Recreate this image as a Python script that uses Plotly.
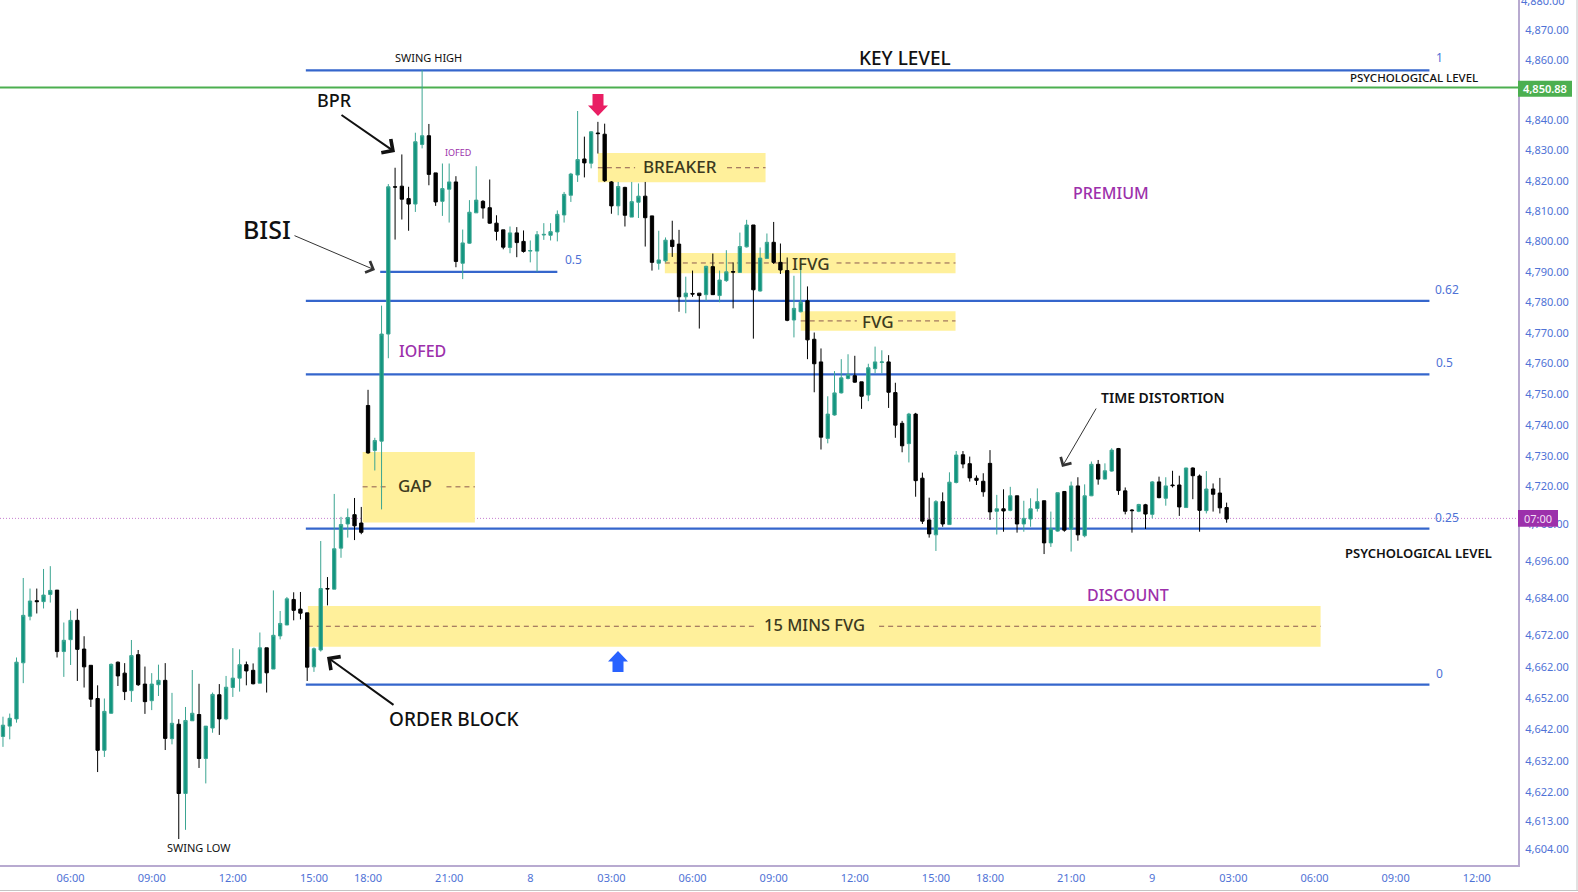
import math
import plotly.graph_objects as go

# 15 min bars, x is the bar number (chart has no time gaps)
opens = [4639.8, 4643.1, 4645.4, 4663.3, 4678.2, 4683.2, 4682.9, 4685.2, 4686.6, 4666.9, 4670.7, 4676.9, 4667.7, 4662.5, 4651.9, 4635.4, 4647.2, 4663.5, 4660.0, 4654.4,
         4665.9, 4656.5, 4651.2, 4656.3, 4657.7, 4639.1, 4643.7, 4621.7, 4644.8, 4646.8, 4632.8, 4642.5, 4653.1, 4645.4, 4655.4, 4658.4, 4662.7, 4660.9, 4656.8, 4668.1,
         4661.3, 4671.9, 4675.4, 4683.6, 4680.5, 4679.3, 4662.0, 4667.4, 4687.1, 4686.9, 4700.1, 4707.9, 4710.9, 4708.2, 4746.3, 4731.7, 4734.7, 4769.6, 4818.0, 4818.2,
         4814.1, 4812.3, 4832.0, 4834.9, 4822.6, 4813.2, 4817.2, 4819.6, 4792.8, 4799.4, 4809.4, 4813.2, 4811.1, 4806.0, 4803.8, 4798.0, 4802.8, 4800.0, 4796.8, 4796.8,
         4802.1, 4802.0, 4803.1, 4808.7, 4815.2, 4821.9, 4827.2, 4825.8, 4835.8, 4835.4, 4819.6, 4811.7, 4817.8, 4808.0, 4812.9, 4814.9, 4808.4, 4792.8, 4793.6, 4800.4,
         4799.1, 4781.8, 4782.9, 4783.0, 4782.5, 4791.7, 4782.2, 4787.1, 4790.1, 4789.8, 4798.2, 4805.4, 4783.7, 4794.4, 4799.7, 4793.1, 4790.4, 4774.2, 4776.9, 4780.5,
         4767.9, 4760.5, 4735.6, 4743.2, 4750.4, 4755.1, 4756.0, 4754.0, 4749.7, 4758.3, 4760.3, 4760.5, 4750.5, 4740.5, 4733.9, 4743.5, 4722.7, 4709.2, 4704.4, 4715.1,
         4707.7, 4721.3, 4730.3, 4727.4, 4722.7, 4721.7, 4727.5, 4712.0, 4712.8, 4712.3, 4717.0, 4707.9, 4709.5, 4712.9, 4715.4, 4701.8, 4705.6, 4718.4, 4706.2, 4720.2,
         4704.1, 4717.0, 4727.2, 4722.4, 4725.0, 4732.3, 4718.6, 4712.4, 4712.0, 4714.1, 4711.0, 4721.5, 4716.2, 4720.5, 4720.5, 4713.2, 4726.0, 4723.4, 4712.2, 4719.2,
         4717.9, 4713.2]
highs = [4646.1, 4647.1, 4665.0, 4690.5, 4687.1, 4687.1, 4693.4, 4694.3, 4686.6, 4676.2, 4680.0, 4680.6, 4671.8, 4662.5, 4656.1, 4651.9, 4663.1, 4663.7, 4663.2, 4670.6,
         4667.4, 4662.1, 4660.0, 4662.7, 4663.2, 4653.7, 4645.3, 4649.2, 4661.0, 4656.6, 4643.1, 4653.8, 4656.5, 4659.1, 4668.0, 4667.6, 4663.7, 4663.1, 4673.0, 4668.1,
         4686.5, 4679.9, 4684.4, 4685.9, 4686.0, 4679.3, 4668.2, 4702.4, 4690.8, 4717.6, 4710.2, 4712.9, 4716.3, 4713.4, 4751.4, 4735.8, 4778.9, 4818.9, 4824.3, 4828.7,
         4818.0, 4835.9, 4856.7, 4838.8, 4822.6, 4825.7, 4825.7, 4821.5, 4803.9, 4813.6, 4824.8, 4813.6, 4820.4, 4808.6, 4803.8, 4804.9, 4804.7, 4803.6, 4800.3, 4803.4,
         4806.0, 4806.0, 4810.2, 4816.3, 4822.6, 4843.1, 4834.6, 4836.4, 4839.5, 4838.9, 4819.9, 4819.6, 4818.0, 4819.6, 4819.1, 4819.6, 4808.4, 4803.5, 4801.3, 4806.8,
         4803.8, 4788.4, 4790.4, 4783.0, 4792.0, 4796.0, 4790.4, 4797.1, 4793.1, 4802.9, 4807.1, 4805.4, 4798.0, 4802.6, 4806.4, 4799.3, 4794.7, 4788.7, 4792.5, 4785.2,
         4770.1, 4764.9, 4749.3, 4757.5, 4761.4, 4763.0, 4762.5, 4754.0, 4759.9, 4765.5, 4764.3, 4762.7, 4753.7, 4741.3, 4743.9, 4743.9, 4724.5, 4716.4, 4715.6, 4718.1,
         4724.6, 4731.5, 4731.5, 4729.7, 4723.6, 4724.3, 4731.8, 4717.3, 4719.1, 4719.9, 4717.0, 4715.4, 4716.2, 4719.4, 4715.4, 4711.9, 4718.0, 4718.4, 4721.6, 4723.0,
         4720.7, 4728.1, 4728.6, 4727.5, 4732.4, 4732.5, 4719.7, 4712.7, 4714.4, 4714.4, 4721.8, 4723.2, 4723.0, 4725.1, 4723.5, 4726.1, 4726.2, 4723.9, 4725.0, 4721.0,
         4722.8, 4714.8]
lows = [4636.5, 4638.9, 4644.2, 4656.8, 4676.9, 4679.1, 4680.7, 4682.6, 4665.0, 4658.8, 4662.6, 4657.5, 4655.4, 4649.2, 4628.5, 4633.3, 4647.0, 4655.9, 4651.4, 4650.8,
        4655.9, 4647.0, 4648.2, 4652.7, 4635.5, 4637.3, 4607.3, 4610.2, 4644.8, 4629.8, 4624.9, 4641.0, 4640.3, 4645.0, 4652.4, 4654.1, 4656.1, 4656.4, 4656.8, 4653.8,
        4661.3, 4670.8, 4675.4, 4676.9, 4677.2, 4657.5, 4660.4, 4666.9, 4681.7, 4686.9, 4697.0, 4703.5, 4702.7, 4704.6, 4730.6, 4725.2, 4712.6, 4761.7, 4800.6, 4807.2,
        4803.5, 4809.7, 4830.7, 4818.5, 4811.7, 4808.4, 4806.2, 4791.5, 4787.6, 4799.2, 4809.4, 4807.5, 4805.8, 4800.3, 4797.4, 4796.1, 4794.8, 4796.3, 4793.1, 4790.0,
        4800.5, 4800.3, 4800.0, 4806.2, 4813.0, 4819.6, 4821.1, 4824.1, 4829.0, 4819.6, 4809.1, 4808.6, 4804.9, 4808.0, 4807.7, 4798.3, 4790.4, 4790.7, 4793.1, 4794.9,
        4776.9, 4776.4, 4781.8, 4771.4, 4780.5, 4782.4, 4780.0, 4786.7, 4778.0, 4789.6, 4798.0, 4768.1, 4783.5, 4794.2, 4792.6, 4789.3, 4773.8, 4768.5, 4776.7, 4761.4,
        4750.6, 4732.0, 4734.0, 4743.0, 4750.2, 4754.8, 4753.7, 4745.2, 4747.7, 4756.8, 4756.8, 4745.5, 4735.8, 4731.1, 4727.8, 4716.7, 4707.9, 4703.5, 4699.2, 4707.0,
        4707.7, 4721.0, 4725.9, 4721.6, 4720.5, 4716.7, 4709.2, 4704.5, 4705.4, 4712.0, 4705.1, 4705.4, 4707.0, 4711.9, 4698.2, 4700.5, 4705.4, 4705.4, 4699.0, 4702.5,
        4703.6, 4716.9, 4720.6, 4722.3, 4724.8, 4717.3, 4711.0, 4705.1, 4711.7, 4706.3, 4709.7, 4716.2, 4713.8, 4719.7, 4710.5, 4713.2, 4715.9, 4705.4, 4711.3, 4711.9,
        4711.3, 4708.3]
closes = [4643.4, 4645.6, 4663.5, 4678.5, 4683.1, 4682.9, 4685.0, 4686.5, 4666.9, 4670.5, 4676.9, 4667.6, 4662.0, 4651.7, 4635.4, 4647.8, 4662.8, 4659.1, 4654.1, 4665.6,
          4656.3, 4650.9, 4656.5, 4657.7, 4639.2, 4644.0, 4621.7, 4644.9, 4647.2, 4632.8, 4643.1, 4653.2, 4645.4, 4655.5, 4658.4, 4662.7, 4660.7, 4656.6, 4668.1, 4660.1,
          4672.1, 4675.9, 4683.8, 4680.1, 4679.2, 4661.9, 4667.8, 4687.1, 4687.0, 4699.9, 4707.7, 4710.0, 4707.3, 4705.2, 4730.9, 4734.9, 4769.6, 4818.0, 4817.9, 4813.9,
          4812.3, 4832.9, 4834.9, 4822.1, 4813.0, 4817.4, 4819.6, 4793.4, 4799.5, 4809.6, 4813.6, 4811.0, 4806.0, 4803.3, 4798.1, 4802.8, 4799.6, 4796.7, 4797.0, 4802.2,
          4802.3, 4803.2, 4808.9, 4815.5, 4822.2, 4827.0, 4825.9, 4836.2, 4835.6, 4820.0, 4811.7, 4818.1, 4808.6, 4813.1, 4814.9, 4807.8, 4793.1, 4793.9, 4800.4, 4798.3,
          4781.8, 4783.0, 4782.7, 4782.2, 4791.8, 4782.5, 4787.3, 4790.0, 4789.9, 4798.3, 4805.4, 4784.1, 4794.5, 4799.7, 4793.1, 4790.6, 4774.1, 4778.0, 4780.0, 4767.7,
          4759.9, 4736.0, 4743.5, 4750.4, 4755.3, 4756.4, 4753.9, 4749.3, 4758.6, 4760.5, 4760.5, 4750.6, 4739.9, 4733.2, 4743.5, 4721.9, 4708.8, 4704.7, 4715.1, 4707.9,
          4721.4, 4730.2, 4727.3, 4722.8, 4722.0, 4718.3, 4711.8, 4712.8, 4712.1, 4717.0, 4707.9, 4709.7, 4712.8, 4715.1, 4701.8, 4706.4, 4718.0, 4705.9, 4720.2, 4704.4,
          4717.0, 4727.2, 4722.4, 4725.1, 4731.8, 4718.7, 4712.0, 4712.2, 4714.2, 4711.1, 4721.5, 4716.4, 4720.2, 4720.3, 4713.4, 4726.0, 4723.5, 4712.3, 4719.2, 4717.5,
          4713.1, 4709.5]
bars = list(range(len(opens)))

time_ticks = [10, 22, 34, 46, 54, 66, 78, 90, 102, 114, 126, 138, 146, 158, 170, 182, 194, 206, 218]
time_labels = ["06:00", "09:00", "12:00", "15:00", "18:00", "21:00", "8", "03:00", "06:00", "09:00", "12:00", "15:00", "18:00", "21:00", "9", "03:00", "06:00", "09:00", "12:00"]
price_ticks = [4870, 4860, 4840, 4830, 4820, 4810, 4800, 4790, 4780, 4770, 4760, 4750, 4740, 4730, 4720, 4708, 4696, 4684, 4672, 4662, 4652, 4642, 4632, 4622, 4613, 4604]

fib_low = 4656.3
fib_high = 4856.6
fib_levels = [1, 0.62, 0.5, 0.25, 0]
last_price = 4850.88
countdown_price = 4709.7

UP = "#12957f"
UP_WICK = "#3ba592"
DOWN = "#000000"
BLUE = "#3566cc"
TICK = "#4f72d6"
PURPLE = "#9c30ab"
ZONE = "#fff09b"
DASH = "#8c5a50"
AXIS = "#b8aad0"
FONT = "Noto Sans"

# plot area in the 1578x892 page
W, H = 1518, 865


def px(x):
    return x / W


def py(y):
    return 1 - y / H


fig = go.Figure()

# zones: bar from, bar to, top, bottom, then the dashed mid line either side of the label
zones = [
    (88.0, 112.8, 4829.2, 4819.5, 4824.3, 93.5, 107.1),
    (97.9, 140.9, 4796.2, 4789.5, 4792.9, 115.9, 123.3),
    (118.0, 140.9, 4777.1, 4770.7, 4773.9, 126.3, 132.4),
    (53.2, 69.8, 4731.2, 4708.4, 4719.9, 57.0, 65.6),
    (45.1, 194.9, 4681.5, 4668.4, 4675.0, 111.5, 129.6),
]
for x0, x1, top, bottom, mid, gap0, gap1 in zones:
    fig.add_shape(type="rect", x0=x0, x1=x1, y0=bottom, y1=top, xref="x", yref="y",
                  fillcolor=ZONE, line_width=0, layer="below")
    for a, b in [(x0, gap0), (gap1, x1)]:
        fig.add_shape(type="line", x0=a, x1=b, y0=mid, y1=mid, xref="x", yref="y",
                      line=dict(color=DASH, width=1, dash="5px,4px"), layer="below")

for level in fib_levels:
    y = fib_low + (fib_high - fib_low) * level
    fig.add_shape(type="line", x0=44.8, x1=211, y0=y, y1=y, xref="x", yref="y",
                  line=dict(color=BLUE, width=2.2), layer="below")
fig.add_shape(type="line", x0=55.8, x1=82, y0=4790, y1=4790, xref="x", yref="y",
              line=dict(color=BLUE, width=2.2), layer="below")

fig.add_shape(type="line", x0=0, x1=1, xref="paper", y0=last_price, y1=last_price, yref="y",
              line=dict(color="#4caf50", width=2), layer="below")
fig.add_shape(type="line", x0=0, x1=1, xref="paper", y0=countdown_price, y1=countdown_price, yref="y",
              line=dict(color="#c77fd0", width=1, dash="1px,2px"), layer="below")

fig.add_trace(go.Candlestick(
    x=bars, open=opens, high=highs, low=lows, close=closes,
    increasing=dict(line=dict(color=UP_WICK, width=1), fillcolor=UP),
    decreasing=dict(line=dict(color=DOWN, width=1), fillcolor=DOWN),
    whiskerwidth=0,
    showlegend=False,
))


def note(text, x, y, size, color="#111111", weight=None):
    fig.add_annotation(text=text, x=px(x), y=py(y), xref="paper", yref="paper",
                       showarrow=False, xanchor="center", yanchor="middle",
                       font=dict(family=FONT, size=size, color=color, weight=weight))


def arrow(tail, tip, width, color="#111111"):
    fig.add_annotation(text="", x=px(tip[0]), y=py(tip[1]), xref="paper", yref="paper",
                       ax=tail[0] - tip[0], ay=tail[1] - tip[1], showarrow=True,
                       arrowhead=4, arrowsize=1.6 if width > 1 else 2.4, arrowwidth=width, arrowcolor=color)


def block_arrow(x, y0, y1, color):
    # chunky arrow, tip at y1
    d = 1 if y1 > y0 else -1
    head = y1 - d * 10.5
    pts = [(x - 5.5, y0), (x + 5.5, y0), (x + 5.5, head), (x + 10, head), (x, y1), (x - 10, head), (x - 5.5, head)]
    path = "M" + " L".join(f"{px(a):.5f},{py(b):.5f}" for a, b in pts) + " Z"
    fig.add_shape(type="path", path=path, xref="paper", yref="paper", fillcolor=color, line_width=0)


OLIVE = "#3c3a1e"
note("BREAKER", 680, 167, 17, OLIVE, 500)
note("IFVG", 811, 263, 17, OLIVE, 500)
note("FVG", 878, 321, 17, OLIVE, 500)
note("GAP", 415, 485, 17, OLIVE, 500)
note("15 MINS FVG", 814, 624, 16.5, OLIVE, 500)

note("KEY LEVEL", 905, 58, 19, weight=500)
note("SWING HIGH", 429, 58, 11)
note("SWING LOW", 199, 847, 11)
note("BPR", 334, 100, 18, weight=500)
note("BISI", 267, 229, 25, weight=500)
note("ORDER BLOCK", 454, 719, 19, weight=500)
note("TIME DISTORTION", 1163, 397, 14, weight=600)
note("PSYCHOLOGICAL LEVEL", 1414, 78, 11.5, weight=500)
note("PSYCHOLOGICAL LEVEL", 1418, 553, 13, weight=600)

note("IOFED", 458, 153, 9, PURPLE)
note("IOFED", 422, 351, 16, PURPLE, 500)
note("PREMIUM", 1111, 193, 16, PURPLE, 500)
note("DISCOUNT", 1128, 595, 16, PURPLE, 500)

note("0.5", 573, 259, 12, TICK)
note("1", 1439, 58, 12, TICK)
note("0.62", 1447, 289, 12, TICK)
note("0.5", 1444, 362, 12, TICK)
note("0.25", 1447, 517, 12, TICK)
note("0", 1439, 673, 12, TICK)

arrow((340, 114), (395, 152), 2)
arrow((293, 235), (375, 270), 1, "#333333")
arrow((395, 706), (327, 657), 2)
arrow((1097, 407), (1062, 467), 1, "#333333")

block_arrow(598, 94, 116, "#e91e63")
block_arrow(618, 672, 651, "#2962ff")

# the 4,880 label sits half off the page, plotly drops it as a tick
note("4,880.00", 1543, 0.5, 11, TICK)

# price labels on the right axis
fig.add_shape(type="rect", x0=px(1518), x1=px(1572), y0=py(96.7), y1=py(80.7), xref="paper", yref="paper",
              fillcolor="#4caf50", line_width=0)
note("4,850.88", 1545, 88.7, 11, "#ffffff", weight=600)
fig.add_shape(type="rect", x0=px(1518), x1=px(1558), y0=py(526.7), y1=py(510), xref="paper", yref="paper",
              fillcolor=PURPLE, line_width=0)
note("07:00", 1538, 518.5, 11, "#f3dff5")

# thin grey page edge
fig.add_shape(type="line", x0=0, x1=px(1578), y0=py(890.5), y1=py(890.5), xref="paper", yref="paper",
              line=dict(color="#c4c4c4", width=1))
fig.add_shape(type="line", x0=px(1577), x1=px(1577), y0=py(0), y1=py(890.5), xref="paper", yref="paper",
              line=dict(color="#c4c4c4", width=1))

fig.update_layout(
    width=1578,
    height=892,
    margin=dict(l=0, r=60, t=0, b=27),
    paper_bgcolor="white",
    plot_bgcolor="white",
    showlegend=False,
    font=dict(family=FONT),
)
fig.update_xaxes(
    range=[-0.44, 224.1],
    rangeslider_visible=False,
    showgrid=False,
    zeroline=False,
    showline=True,
    linecolor=AXIS,
    linewidth=2,
    tickmode="array",
    tickvals=time_ticks,
    ticktext=time_labels,
    ticks="outside",
    ticklen=2,
    tickcolor="rgba(0,0,0,0)",
    tickfont=dict(family=FONT, size=11, color=TICK),
)
fig.update_yaxes(
    type="log",
    range=[math.log10(4599.1), math.log10(4880.1)],
    side="right",
    showgrid=False,
    zeroline=False,
    showline=True,
    linecolor=AXIS,
    linewidth=2,
    tickmode="array",
    tickvals=price_ticks,
    ticktext=[f"{v:,.2f}" for v in price_ticks],
    ticks="outside",
    ticklen=3,
    tickcolor="rgba(0,0,0,0)",
    tickfont=dict(family=FONT, size=11, color=TICK),
)

fig.write_html("out.html", config=dict(displayModeBar=False), post_script="document.body.style.margin='0';")
